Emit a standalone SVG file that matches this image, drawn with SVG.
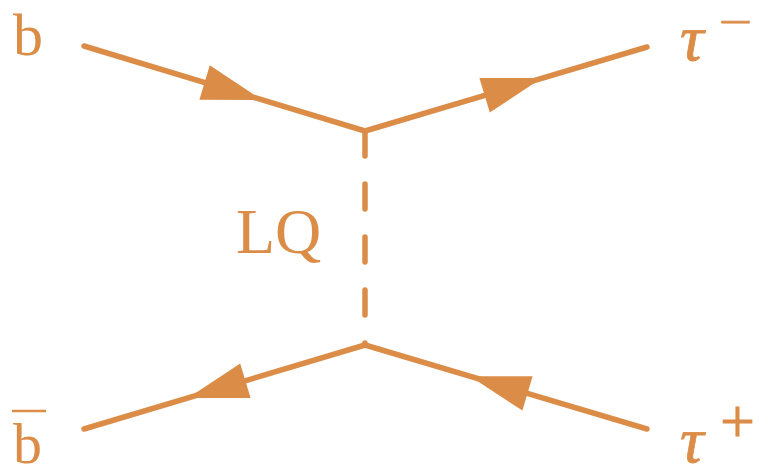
<svg xmlns="http://www.w3.org/2000/svg" width="766" height="476" viewBox="0 0 766 476">
<style>
.ln{stroke:#DB8D48;stroke-width:5.5;stroke-linecap:round;fill:none}
.ds{stroke:#DB8D48;stroke-width:5.5;stroke-linecap:round;fill:none;stroke-dasharray:25 28}
.ar{fill:#DB8D48;stroke:none}
.t{font-family:"Liberation Serif","DejaVu Serif",serif;fill:#DB8D48}
.it{font-style:italic}
.sup{stroke:#DB8D48;stroke-width:0.8}
</style>
<rect width="766" height="476" fill="#ffffff"/>
<g id="connectors">
<line class="ln" x1="84" y1="46" x2="365" y2="131"/>
<line class="ln" x1="365" y1="131" x2="647" y2="47"/>
<line class="ln" x1="84" y1="429" x2="365" y2="345"/>
<line class="ln" x1="365" y1="345" x2="647" y2="429"/>
<line class="ds" x1="365" y1="131" x2="365" y2="345"/>
<polygon class="ar" points="262,99.9 209.8,65.3 199.4,99.7"/>
<polygon class="ar" points="542,78.1 479.4,78.1 489.8,112.5"/>
<polygon class="ar" points="188,397.9 250.6,397.9 240.2,363.5"/>
<polygon class="ar" points="470,376.3 532.6,376.2 522.4,410.6"/>
</g>
<g id="b">
<text class="t" x="13" y="55" font-size="60">b</text>
</g>
<g id="bbar">
<text class="t" x="13" y="463" font-size="58">b</text>
<line x1="12" y1="411" x2="46" y2="411" stroke="#DB8D48" stroke-width="2.6"/>
</g>
<g id="LQ">
<text class="t" x="236" y="253" font-size="64">LQ</text>
</g>
<g id="tauminus">
<text class="t it sup" x="680" y="60" font-size="66">τ</text>
<text class="t sup" x="719" y="34.5" font-size="38" textLength="33" lengthAdjust="spacingAndGlyphs">−</text>
</g>
<g id="tauplus">
<text class="t it sup" x="680" y="462" font-size="66">τ</text>
<text class="t sup" x="720" y="442" font-size="62">+</text>
</g>
</svg>
